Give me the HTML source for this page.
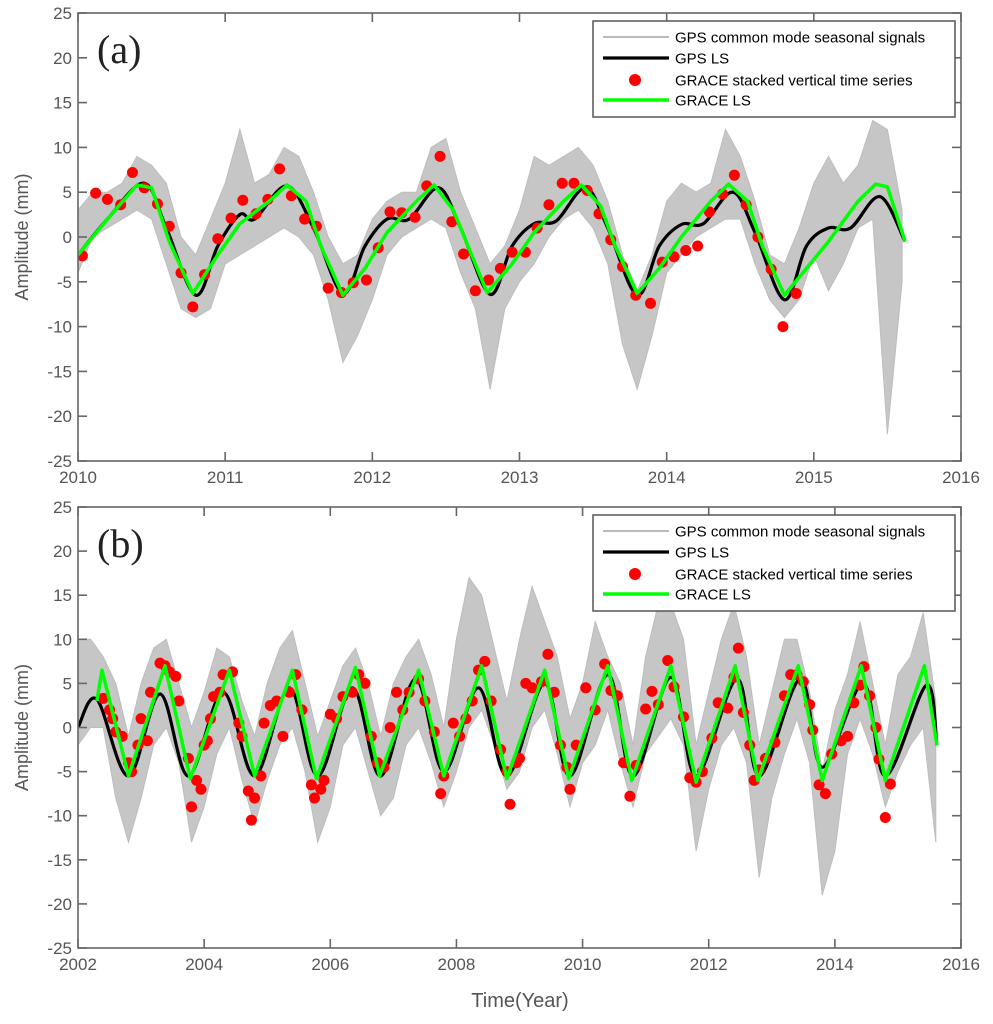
<!DOCTYPE html>
<html><head><meta charset="utf-8"><style>
body{margin:0;background:#fff;}
svg{display:block;font-family:"Liberation Sans",Arial,sans-serif;}
</style></head><body>
<svg id="chart" width="993" height="1024" viewBox="0 0 993 1024" xmlns="http://www.w3.org/2000/svg"></svg>
<script>
// ---------- Panel (a) data ----------
const aGraceT=[2010.03,2010.12,2010.2,2010.29,2010.37,2010.45,2010.54,2010.62,2010.7,2010.78,2010.86,2010.95,2011.04,2011.12,2011.21,2011.29,2011.37,2011.45,2011.54,2011.62,2011.7,2011.79,2011.87,2011.96,2012.04,2012.12,2012.2,2012.29,2012.37,2012.46,2012.54,2012.62,2012.7,2012.79,2012.87,2012.95,2013.04,2013.12,2013.2,2013.29,2013.37,2013.46,2013.54,2013.62,2013.7,2013.79,2013.89,2013.97,2014.05,2014.13,2014.21,2014.29,2014.38,2014.46,2014.54,2014.62,2014.71,2014.79,2014.88];
const aGraceV=[-2.1,4.9,4.2,3.6,7.2,5.5,3.7,1.2,-4.0,-7.8,-4.2,-0.2,2.1,4.1,2.6,4.2,7.6,4.6,2.0,1.2,-5.7,-6.2,-5.1,-4.8,-1.2,2.8,2.7,2.2,5.7,9.0,1.7,-1.9,-6.0,-4.8,-3.5,-1.7,-1.7,1.0,3.6,6.0,6.0,5.2,2.6,-0.3,-3.3,-6.5,-7.4,-2.8,-2.2,-1.5,-1.0,2.8,4.8,6.9,3.6,0.0,-3.6,-10.0,-6.3];
const aGpsLsT=[2010,2010.2,2010.45,2010.6,2010.8,2010.95,2011.1,2011.2,2011.42,2011.6,2011.8,2011.95,2012.1,2012.25,2012.45,2012.6,2012.8,2012.95,2013.1,2013.25,2013.45,2013.6,2013.8,2013.95,2014.1,2014.25,2014.45,2014.6,2014.8,2014.95,2015.1,2015.25,2015.45,2015.62];
const aGpsLsV=[-2,2,6,1,-6.5,-1,2.5,2,5.7,1,-6.3,-1,2,2,5.5,1,-6.4,-1,1.5,1.8,5.5,1,-6.5,-1,1.4,1.5,5,0.5,-7,-1,1,1,4.5,-0.5];
const aGraceLsT=[2010,2010.2,2010.4,2010.5,2010.62,2010.78,2010.95,2011.1,2011.3,2011.42,2011.55,2011.65,2011.8,2011.95,2012.1,2012.3,2012.42,2012.55,2012.65,2012.78,2012.95,2013.1,2013.3,2013.42,2013.55,2013.65,2013.8,2013.95,2014.1,2014.3,2014.42,2014.55,2014.65,2014.8,2014.95,2015.1,2015.3,2015.42,2015.5,2015.62];
const aGraceLsV=[-2,2,5.8,5.5,-0.5,-6.3,-2,1.5,4,5.8,4,-1,-6.5,-3.5,0.5,4,5.8,3,-1,-6.2,-3,0.5,4,5.8,3.5,-1,-6.3,-3.5,0,4,5.9,4,-1,-6.5,-3.5,-0.5,4,5.9,5.6,-0.5];
const aGpsStart=2010.0, aGpsStep=0.1;
const aGpsHi=[3,5,5,6,9,8,6,0,-2,2,6,12,6,7,10,9,5,0,-3,-2,2,4,5,5,10,11,5,1,-3,-1,3,9,8,9,10,8,4,-2,-6,-2,4,6,5,6,12,9,4,-2,-3,1,6,9,6,8,13,12,3];
const aGpsLo=[-4,0,1,2,3,2,-3,-8,-9,-8,-3,-2,-1,0,1,0,-2,-7,-14,-11,-7,-2,0,1,2,1,-4,-8,-17,-8,-5,-3,0,2,3,1,-3,-12,-17,-11,-4,-2,0,1,2,2,-3,-7,-9,-7,-2,-6,-3,1,2,-22,-5];
const aXTicks=[2010,2011,2012,2013,2014,2015,2016];
// ---------- Panel (b) data ----------
const bGraceT=[2002.4,2002.5,2002.55,2002.6,2002.7,2002.8,2002.85,2002.95,2003.0,2003.1,2003.15,2003.3,2003.38,2003.45,2003.55,2003.6,2003.75,2003.8,2003.88,2003.95,2004.0,2004.05,2004.1,2004.15,2004.25,2004.3,2004.45,2004.55,2004.6,2004.7,2004.75,2004.8,2004.9,2004.95,2005.05,2005.15,2005.25,2005.35,2005.45,2005.55,2005.7,2005.75,2005.85,2005.9,2006.0,2006.1,2006.2,2006.35,2006.45,2006.55,2006.65,2006.75,2006.85,2006.95,2007.05,2007.15,2007.25,2007.4,2007.5,2007.65,2007.75,2007.8,2007.95,2008.05,2008.15,2008.25,2008.35,2008.45,2008.55,2008.7,2008.8,2008.85,2008.95,2009.0,2009.1,2009.2,2009.35,2009.45,2009.55,2009.65,2009.75,2009.8,2009.9,2010.05,2010.2,2010.35,2010.45,2010.55,2010.65,2010.75,2010.85,2011.0,2011.1,2011.2,2011.35,2011.45,2011.6,2011.7,2011.8,2011.9,2012.05,2012.15,2012.3,2012.4,2012.47,2012.55,2012.65,2012.72,2012.8,2012.9,2013.05,2013.2,2013.3,2013.4,2013.5,2013.6,2013.65,2013.75,2013.85,2013.95,2014.1,2014.2,2014.3,2014.4,2014.46,2014.55,2014.65,2014.7,2014.8,2014.88];
const bGraceV=[3.3,2,1,-0.5,-1,-4,-5,-2,1,-1.5,4,7.3,7,6.3,5.8,3,-3.5,-9,-6,-7,-2,-1.5,1,3.5,4,6,6.3,0.5,-1,-7.2,-10.5,-8,-5.5,0.5,2.5,3,-1,4,6,2,-6.5,-8,-7,-6,1.5,1,3.5,4,6,5,-1,-4,-4.5,0,4,2,4,5.5,3,-0.5,-7.5,-5.5,0.5,-1,1,3,6.5,7.5,3,-2.5,-5,-8.7,-4,-3.5,5,4.5,5.2,8.3,4,-2,-4.5,-7,-2,4.5,2,7.2,4.2,3.6,-4,-7.8,-4.3,2.1,4.1,2.6,7.6,4.6,1.2,-5.7,-6.2,-5,-1.2,2.8,2.2,5.7,9,1.7,-2,-6,-4.8,-3.5,-1.7,3.6,6,6,5.2,2.6,-0.3,-6.5,-7.5,-3,-1.5,-1,2.8,4.8,6.9,3.6,0,-3.6,-10.2,-6.4];
const bGpsLsT=[2002,2002.3,2002.8,2003.3,2003.75,2004.3,2004.8,2005.35,2005.8,2006.35,2006.8,2007.35,2007.8,2008.35,2008.8,2009.4,2009.8,2010.4,2010.8,2011.4,2011.8,2012.45,2012.8,2013.45,2013.8,2014.45,2014.8,2015.45,2015.62];
const bGpsLsV=[0,3.2,-5.5,3.8,-5.5,4,-5.5,4.5,-5.5,4.5,-5.5,5.5,-5,4.5,-5.5,5,-5.5,6,-5.5,5.7,-5.5,5.5,-5.5,5.5,-4.5,5,-5.5,4.8,-2];
const bGraceLsT=[2002.3,2002.38,2002.8,2003.38,2003.78,2004.4,2004.8,2005.4,2005.78,2006.4,2006.78,2007.4,2007.8,2008.4,2008.8,2009.4,2009.78,2010.4,2010.78,2011.4,2011.8,2012.42,2012.78,2013.42,2013.8,2014.42,2014.8,2015.42,2015.62];
const bGraceLsV=[3,6.5,-5.5,7,-5.8,6.5,-5.5,6.5,-5.8,6.8,-5.5,6.5,-5.5,7,-5.8,6.5,-5.8,7,-6,7,-6.2,7,-6,7,-6,7,-6,7,-2];
const bGpsStart=2002.0, bGpsStep=0.2;
const bGpsHi=[10,10,8,5,-1,5,9,10,5,0,4,9,8,3,-1,5,9,11,5,-1,3,7,9,5,-1,5,8,10,6,0,10,17,15,9,3,10,16,12,8,1,5,12,8,5,-2,8,14,14,10,-2,4,10,14,8,-2,4,10,10,4,-5,2,6,12,5,-2,6,8,13,3];
const bGpsLo=[-2,0,0,-8,-13,-8,-2,0,-4,-13,-9,-3,0,-6,-11,-6,-2,0,-5,-13,-9,-2,0,-5,-10,-8,-2,0,-4,-9,-5,0,2,-2,-7,-5,0,2,-3,-9,-4,-2,2,-4,-9,-3,-1,1,-2,-14,-7,-2,0,-4,-17,-8,-3,1,-4,-19,-14,-3,1,-3,-9,-5,-2,0,-13];
const bXTicks=[2002,2004,2006,2008,2010,2012,2014,2016];
const yTicks=[-25,-20,-15,-10,-5,0,5,10,15,20,25];

const NS="http://www.w3.org/2000/svg";
const svg=document.getElementById('chart');
function mk(tag,attrs,parent){const e=document.createElementNS(NS,tag);for(const k in attrs)e.setAttribute(k,attrs[k]);(parent||svg).appendChild(e);return e;}
function smooth(pts){let d='M'+pts[0][0].toFixed(1)+','+pts[0][1].toFixed(1);
 for(let i=0;i<pts.length-1;i++){const p0=pts[Math.max(0,i-1)],p1=pts[i],p2=pts[i+1],p3=pts[Math.min(pts.length-1,i+2)];
  const c1=[p1[0]+(p2[0]-p0[0])/6,p1[1]+(p2[1]-p0[1])/6],c2=[p2[0]-(p3[0]-p1[0])/6,p2[1]-(p3[1]-p1[1])/6];
  d+='C'+c1[0].toFixed(1)+','+c1[1].toFixed(1)+' '+c2[0].toFixed(1)+','+c2[1].toFixed(1)+' '+p2[0].toFixed(1)+','+p2[1].toFixed(1);}
 return d;}

function panel(cfg){
 const L=78,R=961,T=cfg.top,B=cfg.bottom;
 const xs=t=>L+(t-cfg.x0)/(cfg.x1-cfg.x0)*(R-L);
 const ys=v=>T+(25-v)/50*(B-T);
 const g=mk('g',{});
 
 
 let up=[],dn=[];
 cfg.hi.forEach((v,i)=>{up.push(xs(cfg.gs+i*cfg.gstep).toFixed(1)+','+ys(v).toFixed(1));});
 for(let i=cfg.lo.length-1;i>=0;i--)dn.push(xs(cfg.gs+i*cfg.gstep).toFixed(1)+','+ys(cfg.lo[i]).toFixed(1));
 const band=mk('polygon',{points:up.concat(dn).join(' '),fill:'#c6c6c6',stroke:'#bdbdbd','stroke-width':1},g);
 
 
 const gl=mk('path',{d:smooth(cfg.glT.map((t,i)=>[xs(t),ys(cfg.glV[i])])),fill:'none',stroke:'#000','stroke-width':3.2},g);
 
 
 cfg.gT.forEach((t,i)=>{const c=mk('circle',{cx:xs(t),cy:ys(cfg.gV[i]),r:5.5,fill:'#ff0000'},g);
  
  });
 const grl=mk('polyline',{points:cfg.grT.map((t,i)=>xs(t).toFixed(1)+','+ys(cfg.grV[i]).toFixed(1)).join(' '),fill:'none',stroke:'#00ff00','stroke-width':3.5,'stroke-linejoin':'round'},g);
 
 
 mk('rect',{x:0,y:T-12,width:L,height:B-T+24,fill:'#fff'},g);
 const box=mk('rect',{x:L,y:T,width:R-L,height:B-T,fill:'none',stroke:'#666','stroke-width':1.6},g);
 
 
 yTicks.forEach(v=>{const y=ys(v);
  mk('line',{x1:L,x2:L+9,y1:y,y2:y,stroke:'#666','stroke-width':1.6},g);
  mk('line',{x1:R,x2:R-9,y1:y,y2:y,stroke:'#666','stroke-width':1.6},g);
  const tx=mk('text',{x:L-6,y:y+6,'text-anchor':'end','font-size':17,fill:'#555'},g);tx.textContent=v;
  
  });
 cfg.xt.forEach(t=>{const x=xs(t);
  mk('line',{x1:x,x2:x,y1:B,y2:B-9,stroke:'#666','stroke-width':1.6},g);
  mk('line',{x1:x,x2:x,y1:T,y2:T+9,stroke:'#666','stroke-width':1.6},g);
  const tx=mk('text',{x:x,y:B+22,'text-anchor':'middle','font-size':17,fill:'#555'},g);tx.textContent=t;
  
  });
 const yl=mk('text',{x:0,y:0,transform:'translate(28,'+((T+B)/2)+') rotate(-90)','text-anchor':'middle','font-size':18,fill:'#555'},g);
 yl.textContent='Amplitude (mm)';
 
 
 const pl=mk('text',{x:97,y:T+50,'font-size':40,fill:'#222','font-family':'Liberation Serif,serif'},g);
 pl.textContent=cfg.label;
 
 
 const lg=mk('g',{},g);
 
 
 mk('rect',{x:593,y:T+8,width:362,height:96,fill:'#fff',stroke:'#555','stroke-width':1.5},lg);
 const items=['GPS common mode seasonal signals','GPS LS','GRACE stacked vertical time series','GRACE LS'];
 const rows=[24,45,67,87];
 items.forEach((s,i)=>{const y=T+rows[i];
  if(i===0)mk('line',{x1:603,x2:669,y1:y,y2:y,stroke:'#bbb','stroke-width':2},lg);
  if(i===1)mk('line',{x1:603,x2:669,y1:y,y2:y,stroke:'#000','stroke-width':3.2},lg);
  if(i===2)mk('circle',{cx:635,cy:y,r:6,fill:'#f00'},lg);
  if(i===3)mk('line',{x1:603,x2:669,y1:y,y2:y,stroke:'#0f0','stroke-width':3.5},lg);
  const tx=mk('text',{x:675,y:y+5.5,'font-size':15,fill:'#000'},lg);tx.textContent=s;
  
  });
}
panel({name:'panel-a',top:13,bottom:461,x0:2010,x1:2016,label:'(a)',gT:aGraceT,gV:aGraceV,glT:aGpsLsT,glV:aGpsLsV,grT:aGraceLsT,grV:aGraceLsV,gs:aGpsStart,gstep:aGpsStep,hi:aGpsHi,lo:aGpsLo,xt:aXTicks});
panel({name:'panel-b',top:507,bottom:948,x0:2002,x1:2016,label:'(b)',gT:bGraceT,gV:bGraceV,glT:bGpsLsT,glV:bGpsLsV,grT:bGraceLsT,grV:bGraceLsV,gs:bGpsStart,gstep:bGpsStep,hi:bGpsHi,lo:bGpsLo,xt:bXTicks});
const xl=mk('text',{x:520,y:1007,'text-anchor':'middle','font-size':20,fill:'#555'});
xl.textContent='Time(Year)';


</script>
</body></html>
